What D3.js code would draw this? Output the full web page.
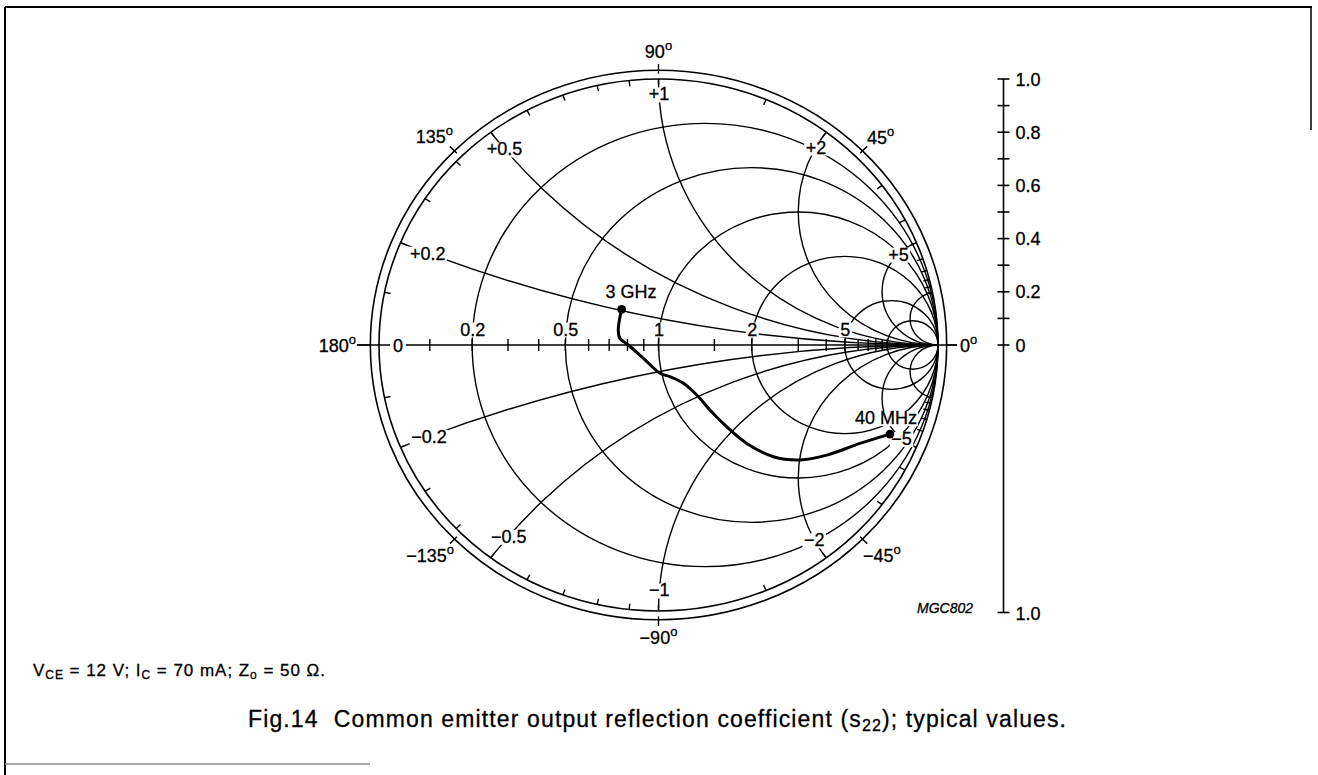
<!DOCTYPE html>
<html><head><meta charset="utf-8">
<script src="https://cdn.jsdelivr.net/npm/d3@7/dist/d3.min.js"></script>
<style>
body{margin:0;background:#fff}
svg{display:block}
text{font-family:"Liberation Sans",Arial,Helvetica,sans-serif;fill:#000;stroke:#000;stroke-width:0.3px}
</style>
</head><body>
<svg id="c" width="1318" height="775"></svg>
<script>
// ---------- data ----------
const resistanceCircles = [0.2, 0.5, 1, 2, 5, 10];
const reactanceArcs = [0.2, 0.5, 1, 2, 5, 10];
const reactanceLabels = [0.2, 0.5, 1, 2, 5];
const resistanceLabels = [0.2, 0.5, 1, 2, 5];
const axisTicks = [0.1, 0.2, 0.3, 0.4, 0.5, 0.6, 0.7, 0.8, 0.9, 1, 1.5, 2, 3, 4, 5, 6, 7, 8, 9, 10];
const rimTicks = [0.1, 0.2, 0.3, 0.4, 0.5, 0.6, 0.7, 0.8, 0.9, 1, 1.5, 2, 3, 4, 5, 6, 7, 8, 9, 10];
const angleLabels = [90, 45, 0, -45, -90, -135, 180, 135];
const magTicks = [0, 0.1, 0.2, 0.3, 0.4, 0.5, 0.6, 0.7, 0.8, 0.9, 1.0];
const magLabels = ["0", "0.2", "0.4", "0.6", "0.8", "1.0"];
const magLabelValues = [0, 0.2, 0.4, 0.6, 0.8, 1.0];
// s22 trace (reflection coefficient, real / imaginary), from 3 GHz to 40 MHz
const s22Re = [-0.132, -0.144, -0.138, -0.108, -0.054, 0.005, 0.041, 0.088, 0.137, 0.184, 0.244, 0.316, 0.411, 0.506, 0.602, 0.721, 0.828];
const s22Im = [0.134, 0.056, 0.025, 0.000, -0.050, -0.106, -0.119, -0.143, -0.188, -0.244, -0.307, -0.370, -0.420, -0.432, -0.414, -0.370, -0.335];
const freqLabels = ["3 GHz", "40 MHz"];

// ---------- setup ----------
const svg = d3.select("#c");
const X = d3.scaleLinear().domain([-1, 1]).range([379, 938]);
const Y = d3.scaleLinear().domain([-1, 1]).range([611, 79]);
const RX = r => X(r) - X(0);
const RY = r => Y(0) - Y(r);
const M = d3.scaleLinear().domain([0, 1]).range([Y(0), Y(1)]);
const FS = 18;
const SW = 1.4;
const minus = s => String(s).replace("-", "\u2212");

// frame
const frame = svg.append("g").attr("stroke", "#000").attr("fill", "none");
frame.append("line").attr("x1", 5).attr("x2", 1312).attr("y1", 7).attr("y2", 7).attr("stroke-width", 2);
frame.append("line").attr("x1", 5).attr("x2", 5).attr("y1", 7).attr("y2", 775).attr("stroke-width", 2);
frame.append("line").attr("x1", 1311).attr("x2", 1311).attr("y1", 7).attr("y2", 130).attr("stroke-width", 1.5);
frame.append("line").attr("x1", 5).attr("x2", 370).attr("y1", 764).attr("y2", 764).attr("stroke-width", 1.5).attr("stroke", "#888");

svg.append("defs").append("clipPath").attr("id", "uc")
  .append("ellipse").attr("cx", X(0)).attr("cy", Y(0)).attr("rx", RX(1)).attr("ry", RY(1));

const grid = svg.append("g").attr("fill", "none").attr("stroke", "#000").attr("stroke-width", SW);
// rings
grid.append("ellipse").attr("cx", X(0)).attr("cy", Y(0)).attr("rx", RX(1.031)).attr("ry", RY(1.033)).attr("stroke-width", 1.6);
grid.append("ellipse").attr("cx", X(0)).attr("cy", Y(0)).attr("rx", RX(1)).attr("ry", RY(1)).attr("stroke-width", 1.6);
// resistance circles
resistanceCircles.forEach(r => {
  const c = r / (r + 1), rad = 1 / (r + 1);
  grid.append("ellipse").attr("cx", X(c)).attr("cy", Y(0)).attr("rx", RX(rad)).attr("ry", RY(rad));
});
// reactance arcs
const arcs = grid.append("g").attr("clip-path", "url(#uc)");
reactanceArcs.forEach(x => [1, -1].forEach(s => {
  arcs.append("ellipse").attr("cx", X(1)).attr("cy", Y(s / x)).attr("rx", RX(1 / x)).attr("ry", RY(1 / x));
}));
// real axis
grid.append("line").attr("x1", X(-1.079)).attr("x2", X(1.068)).attr("y1", Y(0)).attr("y2", Y(0));
axisTicks.forEach(r => {
  const u = (r - 1) / (r + 1);
  grid.append("line").attr("x1", X(u)).attr("x2", X(u)).attr("y1", Y(0) - 6).attr("y2", Y(0) + 6);
});
// rim ticks (reactance scale)
rimTicks.forEach(t => [1, -1].forEach(s => {
  const gr = (t * t - 1) / (t * t + 1), gi = s * 2 * t / (t * t + 1);
  grid.append("line").attr("x1", X(gr)).attr("y1", Y(gi)).attr("x2", X(0.978 * gr)).attr("y2", Y(0.978 * gi));
}));
// angle ticks on outer ring
angleLabels.forEach(a => {
  const c = Math.cos(a * Math.PI / 180), s = Math.sin(a * Math.PI / 180);
  const r0 = (a === 0 || a === 180) ? 1.031 : 1.02;
  const r1 = a === 0 ? 1.068 : a === 180 ? 1.079 : 1.056;
  grid.append("line").attr("x1", X(r0 * c)).attr("y1", Y(r0 * s)).attr("x2", X(r1 * c)).attr("y2", Y(r1 * s));
});

// ---------- label helpers ----------
function degText(g, x, y, val, anchor) {
  const t = g.append("text").attr("x", x).attr("y", y).attr("text-anchor", anchor).attr("font-size", FS);
  t.append("tspan").text(minus(val));
  t.append("tspan").attr("font-size", 13).attr("dy", -8).text("o");
  return t;
}
function bgLabel(x, y, txt, anchor, pad) {
  const g = svg.append("g");
  const t = g.append("text").attr("x", x).attr("y", y).attr("text-anchor", anchor || "middle")
    .attr("font-size", FS).text(txt);
  const b = t.node().getBBox();
  const p = pad === undefined ? 1.5 : pad;
  g.insert("rect", "text").attr("x", b.x - p).attr("y", b.y + 3).attr("width", b.width + 2 * p)
    .attr("height", b.height - 5).attr("fill", "#fff");
  return g;
}
// point on reactance arc at a given |Gamma|
function arcPoint(x, k) {
  const k2 = k * k;
  const r = ((1 + k2) - Math.sqrt((1 + k2) * (1 + k2) - (1 - k2) * (1 - k2) * (1 + x * x))) / (1 - k2);
  const den = (r + 1) * (r + 1) + x * x;
  return [((r * r - 1) + x * x) / den, (2 * x) / den];
}

// reactance labels
const kPos = {0.2: 0.895, 0.5: 0.92, 1: 0.944, 2: 0.933, 5: 0.924};
const kNeg = {0.2: 0.89, 0.5: 0.897, 1: 0.921, 2: 0.92, 5: 0.938};
reactanceLabels.forEach(x => {
  const p = arcPoint(x, kPos[x]);
  bgLabel(X(p[0]), Y(p[1]) + 6.5, "+" + x);
  const q = arcPoint(x, kNeg[x]);
  bgLabel(X(q[0]), Y(-q[1]) + 6.5, "\u2212" + x);
});
// resistance labels on real axis
resistanceLabels.forEach(r => {
  const u = (r - 1) / (r + 1);
  bgLabel(X(u) + 0.5, Y(0) - 9.5, String(r));
});
bgLabel(X(-0.932), Y(0) + 6.5, "0", "middle", 3);

// angle labels
const ag = svg.append("g");
degText(ag, X(0), Y(1.06) - 5, 90, "middle");
degText(ag, X(0), Y(-1.06) + 17, -90, "middle");
degText(ag, X(1.06 * Math.SQRT1_2) - 1, Y(1.06 * Math.SQRT1_2) - 2, 45, "start");
degText(ag, X(-1.06 * Math.SQRT1_2) + 4, Y(1.06 * Math.SQRT1_2) - 3, 135, "end");
degText(ag, X(1.06 * Math.SQRT1_2) - 5, Y(-1.06 * Math.SQRT1_2) + 18, -45, "start");
degText(ag, X(-1.06 * Math.SQRT1_2) + 5, Y(-1.06 * Math.SQRT1_2) + 18, -135, "end");
degText(ag, X(-1.079) - 1, Y(0) + 6.5, 180, "end");
degText(ag, X(1.068) + 3, Y(0) + 6.5, 0, "start");

// frequency labels
const s22 = s22Re.map((re, i) => [re, s22Im[i]]);
const first = s22[0], last = s22[s22.length - 1];
bgLabel(X(first[0]) + 9.5, Y(first[1]) - 11.5, freqLabels[0], "middle", 1);
bgLabel(X(last[0]) - 4, Y(last[1]) - 10, freqLabels[1], "middle", 1);

// trace
const line = d3.line().x(d => X(d[0])).y(d => Y(d[1])).curve(d3.curveCatmullRom.alpha(0.5));
svg.append("path").datum(s22).attr("d", line).attr("fill", "none").attr("stroke", "#000")
  .attr("stroke-width", 3).attr("stroke-linecap", "round").attr("stroke-linejoin", "round");
[first, last].forEach(d => svg.append("circle").attr("cx", X(d[0])).attr("cy", Y(d[1])).attr("r", 4.4).attr("fill", "#000"));

// magnitude scale
const sx = 1003.5;
const mg = svg.append("g").attr("stroke", "#000").attr("stroke-width", 1.6);
mg.append("line").attr("x1", sx).attr("x2", sx).attr("y1", M(1)).attr("y2", Y(-1) + 1.5);
magTicks.forEach(v => mg.append("line").attr("x1", sx - 6).attr("x2", sx + 6).attr("y1", M(v)).attr("y2", M(v)));
mg.append("line").attr("x1", sx - 6).attr("x2", sx + 6).attr("y1", Y(-1) + 1.5).attr("y2", Y(-1) + 1.5);
const ml = svg.append("g");
magLabelValues.forEach((v, i) => ml.append("text").attr("x", sx + 12).attr("y", M(v) + 6.5).attr("font-size", FS).text(magLabels[i]));
ml.append("text").attr("x", sx + 12).attr("y", Y(-1) + 9).attr("font-size", FS).text(magLabels[5]);

// code
svg.append("text").attr("x", 917).attr("y", 613).attr("font-size", 14).attr("font-style", "italic").text("MGC802");

// footer conditions
const ft = svg.append("text").attr("x", 33).attr("y", 676).attr("font-size", 17)
  .attr("textLength", 292).attr("lengthAdjust", "spacing");
ft.append("tspan").text("V");
ft.append("tspan").attr("font-size", 12).attr("dy", 3).text("CE");
ft.append("tspan").attr("dy", -3).text(" = 12 V; I");
ft.append("tspan").attr("font-size", 12).attr("dy", 3).text("C");
ft.append("tspan").attr("dy", -3).text(" = 70 mA; Z");
ft.append("tspan").attr("font-size", 12).attr("dy", 3).text("o");
ft.append("tspan").attr("dy", -3).text(" = 50 \u03A9.");

// caption
const cap = svg.append("text").attr("x", 248).attr("y", 727).attr("font-size", 23)
  .attr("textLength", 818).attr("lengthAdjust", "spacing").attr("xml:space", "preserve");
cap.append("tspan").text("Fig.14\u00A0\u00A0Common emitter output reflection coefficient (s");
cap.append("tspan").attr("font-size", 16).attr("dy", 4).text("22");
cap.append("tspan").attr("dy", -4).text("); typical values.");
</script>
</body></html>
